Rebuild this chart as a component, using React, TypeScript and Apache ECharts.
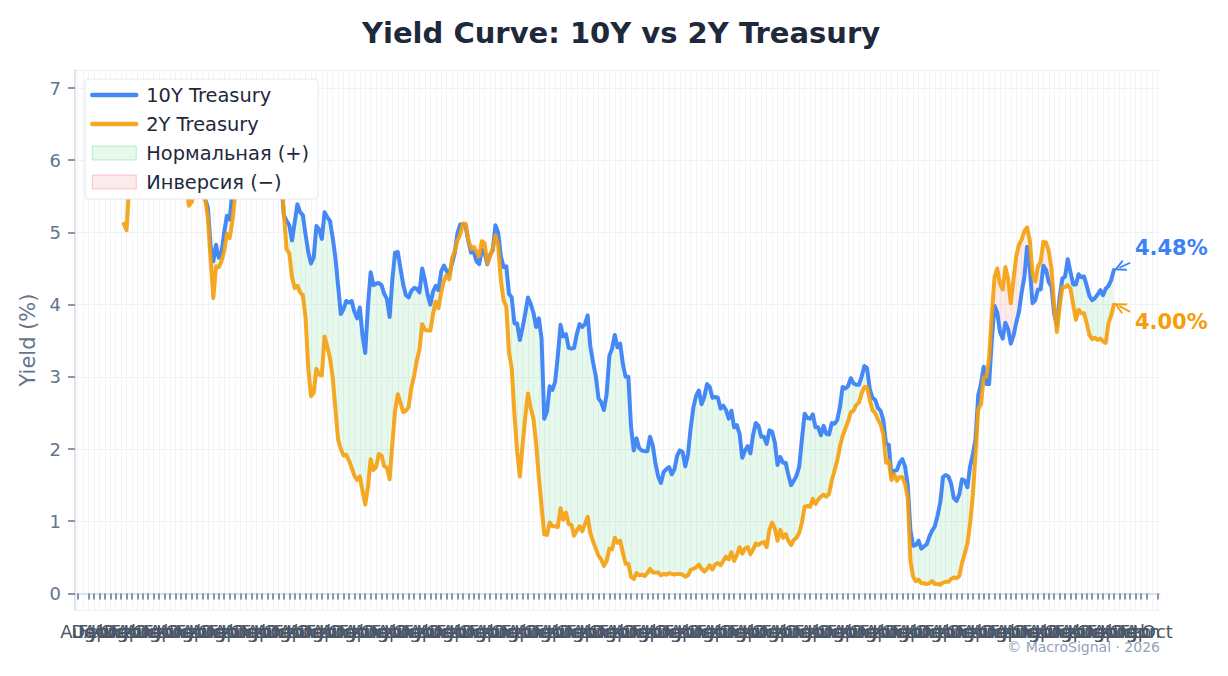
import React, { useEffect, useRef } from "react";
import * as echarts from "echarts";

const FONT = "DejaVu Sans";
const BLUE = "#3b82f6";
const ORANGE = "#f59e0b";
const GREEN_FILL = "rgba(34,197,94,0.11)";
const GREEN_EDGE = "rgba(34,197,94,0.28)";
const RED_FILL = "rgba(239,68,68,0.11)";
const RED_EDGE = "rgba(239,68,68,0.28)";

const MONTHS = ["Jan", "Feb", "Mar", "Apr", "May", "Jun", "Jul", "Aug", "Sep", "Oct", "Nov", "Dec"];

// Axis spans Jul 1994 .. Nov 2027 (monthly categories); data runs Jan 1996 .. Jun 2026
const AXIS_START_YEAR = 1994;
const AXIS_START_MONTH = 6; // Jul (0-based)
const AXIS_LENGTH = 401;
const DATA_OFFSET = 18; // Jan 1996 position on the axis

// 10Y Treasury yield, monthly, Jan 1996 .. Jun 2026
const TEN_Y = [
  5.65, 5.81, 6.27, 6.51, 6.74, 6.91, 6.87, 6.64, 6.83, 6.53, 6.20, 6.30,
  6.58, 6.42, 6.69, 6.89, 6.71, 6.49, 6.22, 6.30, 6.21, 6.03, 5.88, 5.81,
  5.54, 5.57, 5.65, 5.64, 5.65, 5.50, 5.46, 5.34, 4.81, 4.60, 4.83, 4.65,
  4.72, 5.00, 5.23, 5.18, 5.54, 5.90, 5.79, 5.94, 5.92, 6.11, 6.03, 6.28,
  6.66, 6.52, 6.26, 5.99, 6.44, 6.10, 6.05, 5.83, 5.80, 5.74, 5.72, 5.24,
  5.16, 5.10, 4.89, 5.14, 5.39, 5.28, 5.24, 4.97, 4.73, 4.57, 4.65, 5.09,
  5.04, 4.91, 5.28, 5.21, 5.16, 4.93, 4.65, 4.26, 3.87, 3.94, 4.05, 4.03,
  4.05, 3.90, 3.81, 3.96, 3.57, 3.33, 3.98, 4.45, 4.27, 4.29, 4.30, 4.27,
  4.15, 4.08, 3.83, 4.35, 4.72, 4.73, 4.50, 4.28, 4.13, 4.10, 4.19, 4.23,
  4.22, 4.17, 4.50, 4.34, 4.14, 4.00, 4.18, 4.26, 4.20, 4.46, 4.54, 4.47,
  4.42, 4.57, 4.72, 4.99, 5.11, 5.11, 5.09, 4.88, 4.72, 4.73, 4.60, 4.56,
  4.76, 4.72, 4.56, 4.69, 4.75, 5.10, 5.00, 4.67, 4.52, 4.53, 4.15, 4.10,
  3.74, 3.74, 3.51, 3.68, 3.88, 4.10, 4.01, 3.89, 3.69, 3.81, 3.53, 2.42,
  2.52, 2.87, 2.82, 2.93, 3.29, 3.72, 3.56, 3.59, 3.40, 3.39, 3.40, 3.59,
  3.73, 3.69, 3.73, 3.85, 3.42, 3.20, 3.01, 2.70, 2.65, 2.54, 2.76, 3.29,
  3.39, 3.58, 3.41, 3.46, 3.17, 3.00, 3.00, 2.30, 1.98, 2.15, 2.01, 1.98,
  1.97, 1.97, 2.17, 2.05, 1.80, 1.62, 1.53, 1.68, 1.72, 1.75, 1.65, 1.72,
  1.91, 1.98, 1.96, 1.76, 1.93, 2.30, 2.58, 2.74, 2.81, 2.62, 2.72, 2.90,
  2.86, 2.71, 2.72, 2.71, 2.56, 2.60, 2.54, 2.42, 2.53, 2.30, 2.33, 2.21,
  1.88, 1.98, 2.04, 1.94, 2.20, 2.36, 2.32, 2.17, 2.17, 2.07, 2.26, 2.24,
  2.09, 1.78, 1.89, 1.81, 1.81, 1.64, 1.50, 1.56, 1.63, 1.76, 2.14, 2.49,
  2.43, 2.42, 2.48, 2.30, 2.30, 2.19, 2.32, 2.21, 2.20, 2.36, 2.35, 2.40,
  2.58, 2.86, 2.84, 2.87, 2.98, 2.91, 2.89, 2.89, 3.00, 3.15, 3.12, 2.83,
  2.71, 2.68, 2.57, 2.53, 2.40, 2.07, 2.06, 1.63, 1.70, 1.71, 1.81, 1.86,
  1.76, 1.50, 0.87, 0.66, 0.67, 0.73, 0.62, 0.65, 0.68, 0.79, 0.87, 0.93,
  1.08, 1.26, 1.61, 1.64, 1.62, 1.52, 1.32, 1.28, 1.37, 1.58, 1.56, 1.47,
  1.76, 1.93, 2.13, 2.75, 2.90, 3.14, 2.90, 2.90, 3.52, 3.98, 3.89, 3.62,
  3.53, 3.75, 3.66, 3.46, 3.57, 3.75, 3.90, 4.17, 4.38, 4.80, 4.50, 4.02,
  4.06, 4.21, 4.21, 4.54, 4.48, 4.31, 4.25, 3.87, 3.72, 4.10, 4.36, 4.39,
  4.63, 4.45, 4.28, 4.28, 4.42, 4.38, 4.39, 4.26, 4.12, 4.06, 4.09, 4.14,
  4.20, 4.13, 4.22, 4.26, 4.34, 4.48,
];

// 2Y Treasury yield, monthly, Jan 1996 .. Jun 2026
const TWO_Y = [
  5.12, 5.03, 5.66, 5.97, 6.12, 6.30, 6.31, 6.15, 6.21, 5.92, 5.73, 5.80,
  5.99, 5.97, 6.19, 6.41, 6.31, 6.07, 5.83, 5.94, 5.83, 5.72, 5.72, 5.72,
  5.37, 5.42, 5.56, 5.59, 5.61, 5.52, 5.46, 5.20, 4.62, 4.09, 4.53, 4.52,
  4.60, 4.74, 4.98, 4.92, 5.15, 5.50, 5.49, 5.62, 5.65, 5.86, 5.86, 6.10,
  6.44, 6.61, 6.53, 6.40, 6.81, 6.48, 6.34, 6.23, 6.08, 5.91, 5.80, 5.26,
  4.77, 4.71, 4.38, 4.23, 4.26, 4.17, 4.13, 3.82, 3.12, 2.73, 2.78, 3.11,
  3.03, 3.02, 3.56, 3.42, 3.26, 2.99, 2.56, 2.13, 2.00, 1.91, 1.92, 1.84,
  1.74, 1.63, 1.57, 1.62, 1.42, 1.23, 1.47, 1.86, 1.71, 1.75, 1.93, 1.91,
  1.76, 1.74, 1.58, 2.07, 2.53, 2.76, 2.64, 2.51, 2.53, 2.58, 2.85, 3.01,
  3.22, 3.38, 3.73, 3.65, 3.64, 3.64, 3.87, 4.04, 3.95, 4.17, 4.33, 4.41,
  4.35, 4.64, 4.74, 4.89, 4.97, 5.12, 5.12, 4.90, 4.77, 4.80, 4.74, 4.67,
  4.88, 4.85, 4.57, 4.67, 4.77, 4.96, 4.82, 4.34, 4.06, 3.97, 3.34, 3.12,
  2.48, 1.97, 1.62, 2.05, 2.45, 2.77, 2.57, 2.42, 2.08, 1.61, 1.21, 0.82,
  0.81, 0.98, 0.93, 0.93, 0.92, 1.18, 1.02, 1.12, 0.96, 0.95, 0.80, 0.87,
  0.93, 0.86, 0.96, 1.06, 0.83, 0.72, 0.62, 0.52, 0.47, 0.38, 0.45, 0.62,
  0.61, 0.77, 0.70, 0.73, 0.56, 0.41, 0.41, 0.23, 0.20, 0.28, 0.25, 0.26,
  0.24, 0.28, 0.34, 0.29, 0.29, 0.29, 0.25, 0.27, 0.26, 0.28, 0.27, 0.26,
  0.27, 0.27, 0.26, 0.23, 0.25, 0.33, 0.34, 0.36, 0.40, 0.34, 0.30, 0.34,
  0.39, 0.33, 0.40, 0.42, 0.39, 0.45, 0.51, 0.47, 0.57, 0.45, 0.53, 0.64,
  0.55, 0.62, 0.64, 0.54, 0.61, 0.69, 0.67, 0.70, 0.71, 0.64, 0.88, 0.98,
  0.90, 0.73, 0.88, 0.77, 0.82, 0.73, 0.67, 0.74, 0.77, 0.84, 0.98, 1.20,
  1.21, 1.20, 1.31, 1.24, 1.30, 1.34, 1.37, 1.34, 1.38, 1.56, 1.70, 1.84,
  2.03, 2.18, 2.28, 2.38, 2.51, 2.53, 2.61, 2.64, 2.77, 2.86, 2.86, 2.68,
  2.54, 2.50, 2.41, 2.34, 2.21, 1.81, 1.84, 1.57, 1.65, 1.56, 1.61, 1.61,
  1.52, 1.33, 0.45, 0.23, 0.17, 0.19, 0.14, 0.14, 0.13, 0.14, 0.17, 0.13,
  0.13, 0.12, 0.15, 0.16, 0.16, 0.20, 0.22, 0.21, 0.24, 0.42, 0.55, 0.69,
  0.97, 1.36, 1.93, 2.55, 2.62, 2.99, 3.00, 3.26, 3.86, 4.38, 4.50, 4.29,
  4.21, 4.52, 4.36, 4.02, 4.35, 4.67, 4.83, 4.90, 5.02, 5.07, 4.89, 4.43,
  4.32, 4.53, 4.59, 4.87, 4.86, 4.74, 4.50, 3.97, 3.62, 3.97, 4.24, 4.24,
  4.27, 4.22, 4.00, 3.79, 3.93, 3.88, 3.88, 3.74, 3.58, 3.52, 3.54, 3.51,
  3.53, 3.49, 3.47, 3.74, 3.85, 4.00,
];

const Y_MIN = -0.23;
const Y_MAX = 7.25;

const categories: string[] = Array.from({ length: AXIS_LENGTH }, (_, k) => {
  const m = AXIS_START_MONTH + k;
  const y = AXIS_START_YEAR + Math.floor(m / 12);
  return `${y}-${String((m % 12) + 1).padStart(2, "0")}`;
});

const pad = (arr: (number | null)[]) =>
  categories.map((_, k) => {
    const j = k - DATA_OFFSET;
    return j >= 0 && j < arr.length ? arr[j] : null;
  });

const isEvenMonthTick = (idx: number) => ((AXIS_START_MONTH + idx) % 12) % 2 === 1;

export default function App() {
  const ref = useRef<HTMLDivElement>(null);

  useEffect(() => {
    if (!ref.current) return;
    const chart = echarts.init(ref.current, undefined, { renderer: "svg" });

    const baseVals = TEN_Y.map((v, i) => Math.min(v, TWO_Y[i]));
    const posVals = TEN_Y.map((v, i) => Math.max(v - TWO_Y[i], 0));
    const negVals = TEN_Y.map((v, i) => Math.max(TWO_Y[i] - v, 0));

    const n = TEN_Y.length;
    const last10 = TEN_Y[n - 1];
    const last2 = TWO_Y[n - 1];
    const lastCat = categories[DATA_OFFSET + n - 1];
    const arrowFrom = categories[DATA_OFFSET + n - 1 + 6];
    const arrowTo = categories[DATA_OFFSET + n - 1 + 2];

    const arrowSymbol = "path://M0,10 L5,0 L10,10 L8.3,10 L5,3.4 L1.7,10 Z";

    const option: any = {
      animation: false,
      backgroundColor: "#ffffff",
      textStyle: { fontFamily: FONT },
      title: {
        text: "Yield Curve: 10Y vs 2Y Treasury",
        left: 357,
        top: 13,
        textStyle: { fontFamily: FONT, fontSize: 29, fontWeight: "bold", color: "#1e293b" },
      },
      grid: { left: 75, right: 68, top: 70, bottom: 66, containLabel: false },
      legend: {
        orient: "vertical",
        left: 85,
        top: 79,
        z: 20,
        zlevel: 0,
        backgroundColor: "#ffffff",
        borderColor: "#e2e8f0",
        borderWidth: 1,
        borderRadius: 4,
        padding: [6, 9, 7, 5],
        itemWidth: 44,
        itemHeight: 14,
        itemGap: 9,
        selectedMode: false,
        textStyle: {
          fontFamily: FONT,
          fontSize: 19.4,
          lineHeight: 20,
          color: "#1e293b",
          padding: [0, 0, 0, 5],
        },
        data: [
          { name: "10Y Treasury", itemStyle: { opacity: 0 }, lineStyle: { width: 4.5 } },
          { name: "2Y Treasury", itemStyle: { opacity: 0 }, lineStyle: { width: 4.5 } },
          {
            name: "Нормальная (+)",
            icon: "rect",
            itemStyle: { color: GREEN_FILL, borderColor: GREEN_EDGE, borderWidth: 1, opacity: 1 },
          },
          {
            name: "Инверсия (−)",
            icon: "rect",
            itemStyle: { color: RED_FILL, borderColor: RED_EDGE, borderWidth: 1, opacity: 1 },
          },
        ],
      },
      xAxis: {
        type: "category",
        data: categories,
        boundaryGap: false,
        axisLine: { show: true, lineStyle: { color: "#d5dce5", width: 1.5 } },
        axisTick: {
          show: true,
          interval: (idx: number) => isEvenMonthTick(idx),
          length: 6,
          lineStyle: { color: "#64748b", width: 1.5 },
        },
        axisLabel: {
          show: true,
          interval: (idx: number) => isEvenMonthTick(idx),
          formatter: (val: string) => MONTHS[parseInt(val.slice(5), 10) - 1],
          fontFamily: FONT,
          fontSize: 18,
          color: "#4b5767",
          margin: 12,
          hideOverlap: false,
          showMinLabel: true,
          showMaxLabel: true,
        },
        splitLine: {
          show: true,
          interval: (idx: number) => isEvenMonthTick(idx),
          lineStyle: { color: "#f2f4f7", width: 1 },
        },
      },
      yAxis: {
        type: "value",
        min: Y_MIN,
        max: Y_MAX,
        splitNumber: 7,
        name: "Yield (%)",
        nameLocation: "middle",
        nameGap: 33,
        nameTextStyle: { fontFamily: FONT, fontSize: 21, color: "#64748b" },
        axisLine: { show: true, lineStyle: { color: "#d5dce5", width: 1.5 } },
        axisTick: { show: true, length: 7, lineStyle: { color: "#64748b", width: 1.5 } },
        axisLabel: {
          fontFamily: FONT,
          fontSize: 18,
          color: "#64748b",
          margin: 14,
          showMinLabel: false,
          showMaxLabel: false,
        },
        splitLine: { show: true, lineStyle: { color: "#edf1f6", width: 1 } },
      },
      series: [
        {
          name: "_base",
          type: "line",
          stack: "spread",
          data: pad(baseVals),
          symbol: "none",
          silent: true,
          lineStyle: { opacity: 0, width: 0 },
          z: 1,
        },
        {
          name: "Нормальная (+)",
          type: "line",
          stack: "spread",
          data: pad(posVals),
          symbol: "none",
          silent: true,
          color: GREEN_FILL,
          lineStyle: { opacity: 0, width: 0 },
          areaStyle: { color: GREEN_FILL, opacity: 1 },
          z: 1,
        },
        {
          name: "Инверсия (−)",
          type: "line",
          stack: "spread",
          data: pad(negVals),
          symbol: "none",
          silent: true,
          color: RED_FILL,
          lineStyle: { opacity: 0, width: 0 },
          areaStyle: { color: RED_FILL, opacity: 1 },
          z: 1,
        },
        {
          name: "10Y Treasury",
          type: "line",
          data: pad(TEN_Y),
          symbol: "none",
          color: BLUE,
          lineStyle: { color: BLUE, width: 4, opacity: 0.95, join: "round", cap: "round" },
          z: 3,
          markPoint: {
            silent: true,
            symbol: "circle",
            symbolSize: 0,
            data: [{ coord: [lastCat, last10], value: last10 }],
            label: {
              show: true,
              position: "right",
              distance: 0,
              offset: [21, -22],
              formatter: () => `${last10.toFixed(2)}%`,
              fontFamily: FONT,
              fontSize: 21,
              fontWeight: "bold",
              color: BLUE,
            },
          },
          markLine: {
            silent: true,
            symbol: ["none", arrowSymbol],
            symbolSize: 12,
            label: { show: false },
            lineStyle: { color: BLUE, width: 1.8, type: "solid", opacity: 1 },
            data: [[{ coord: [arrowFrom, last10 + 0.1] }, { coord: [arrowTo, last10 + 0.03] }]],
          },
        },
        {
          name: "2Y Treasury",
          type: "line",
          data: pad(TWO_Y),
          symbol: "none",
          color: ORANGE,
          lineStyle: { color: ORANGE, width: 4, opacity: 0.9, join: "round", cap: "round" },
          z: 4,
          markPoint: {
            silent: true,
            symbol: "circle",
            symbolSize: 0,
            data: [{ coord: [lastCat, last2], value: last2 }],
            label: {
              show: true,
              position: "right",
              distance: 0,
              offset: [21, 17],
              formatter: () => `${last2.toFixed(2)}%`,
              fontFamily: FONT,
              fontSize: 21,
              fontWeight: "bold",
              color: ORANGE,
            },
          },
          markLine: {
            silent: true,
            symbol: ["none", arrowSymbol],
            symbolSize: 12,
            label: { show: false },
            lineStyle: { color: ORANGE, width: 1.8, type: "solid", opacity: 1 },
            data: [[{ coord: [arrowFrom, last2 - 0.1] }, { coord: [arrowTo, last2 - 0.02] }]],
          },
        },
      ],
      graphic: [
        {
          type: "text",
          right: 68,
          top: 640,
          style: {
            text: "© MacroSignal · 2026",
            fontFamily: FONT,
            fontSize: 14,
            fill: "#94a3b8",
          },
        },
      ],
    };

    chart.setOption(option);
    return () => chart.dispose();
  }, []);

  return (
    <div
      ref={ref}
      style={{ position: "fixed", left: 0, top: 0, width: 1228, height: 676, background: "#fff" }}
    />
  );
}
